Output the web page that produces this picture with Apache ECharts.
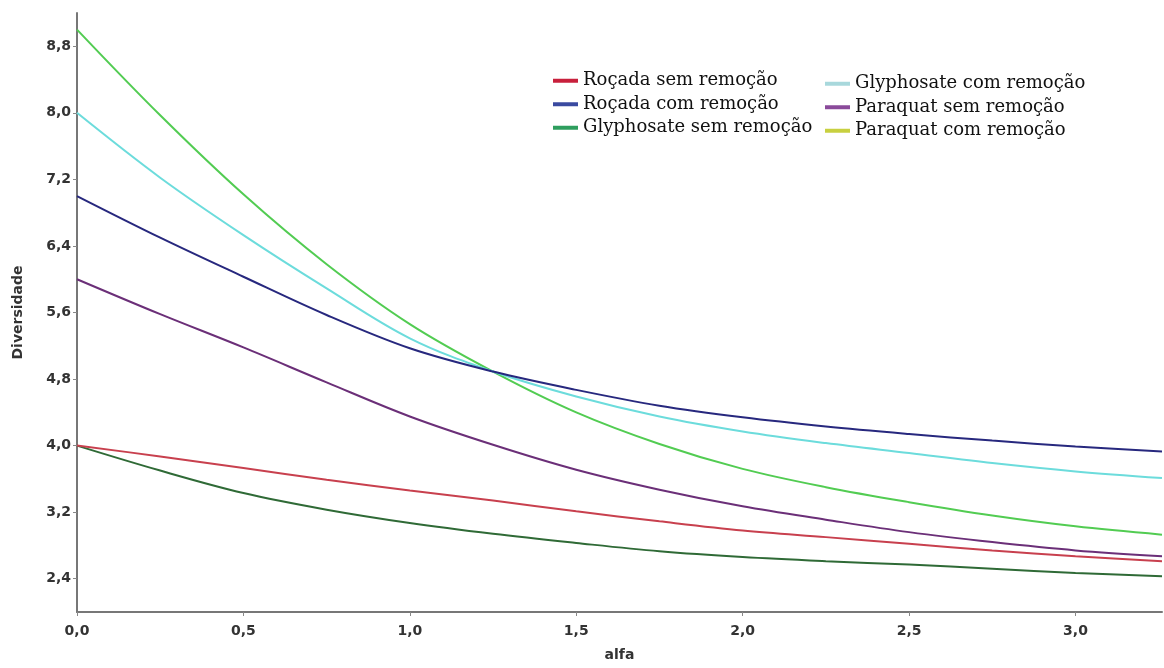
<!DOCTYPE html>
<html>
<head>
<meta charset="utf-8">
<script src="https://cdn.jsdelivr.net/npm/echarts@6/dist/echarts.min.js"></script>
<style>
html,body{margin:0;padding:0;background:#fff;}
#chart{width:1164px;height:668px;}
</style>
</head>
<body>
<div id="chart"></div>
<script>
// alpha values (x)
const alfa = [0, 0.25, 0.5, 0.75, 1.0, 1.25, 1.5, 1.75, 2.0, 2.25, 2.5, 2.75, 3.0, 3.26];
// series values (Diversidade)
const rocadaSem      = [4.00, 3.87, 3.73, 3.59, 3.46, 3.34, 3.21, 3.09, 2.98, 2.90, 2.82, 2.74, 2.67, 2.61];
const rocadaCom      = [7.00, 6.50, 6.03, 5.57, 5.17, 4.89, 4.67, 4.48, 4.34, 4.23, 4.14, 4.06, 3.99, 3.93];
const glyphosateSem  = [4.00, 3.70, 3.43, 3.23, 3.07, 2.94, 2.83, 2.73, 2.66, 2.61, 2.57, 2.52, 2.47, 2.43];
const glyphosateCom  = [8.00, 7.22, 6.53, 5.89, 5.29, 4.89, 4.59, 4.35, 4.17, 4.03, 3.91, 3.79, 3.69, 3.61];
const paraquatSem    = [6.00, 5.58, 5.18, 4.76, 4.35, 4.01, 3.71, 3.47, 3.27, 3.11, 2.96, 2.84, 2.74, 2.67];
const paraquatCom    = [9.00, 7.97, 7.02, 6.18, 5.46, 4.89, 4.40, 4.02, 3.72, 3.50, 3.32, 3.16, 3.03, 2.93];
// tick labels
const xTicks = [0, 0.5, 1.0, 1.5, 2.0, 2.5, 3.0];
const yTicks = [2.4, 3.2, 4.0, 4.8, 5.6, 6.4, 7.2, 8.0, 8.8];
const names = ['Roçada sem remoção','Roçada com remoção','Glyphosate sem remoção',
               'Glyphosate com remoção','Paraquat sem remoção','Paraquat com remoção'];
const values = [rocadaSem, rocadaCom, glyphosateSem, glyphosateCom, paraquatSem, paraquatCom];
const lineColors = ['#c8404e','#27287e','#2f6a36','#6cdcdc','#6b2f78','#52cc52'];
const legendColors = ['#c8203c','#3a4aa0','#2e9e5e','#a8d8dc','#8a4a9a','#c8d040'];

const fmt = v => Number(v).toFixed(1).replace('.', ',');

const series = names.map((n, i) => ({
  name: n,
  type: 'line',
  smooth: 0.35,
  showSymbol: false,
  data: alfa.map((a, j) => [a, values[i][j]]),
  lineStyle: { color: lineColors[i], width: 2 },
  itemStyle: { color: legendColors[i] },
  emphasis: { disabled: true },
  z: 6 - i
}));

const legendCommon = {
  orient: 'vertical',
  icon: 'rect',
  itemWidth: 25,
  itemHeight: 4,
  itemGap: 4,
  textStyle: { fontFamily: 'DejaVu Serif', fontSize: 18, color: '#111', lineHeight: 19.5 }
};

const axisFont = { fontFamily: 'DejaVu Sans', fontWeight: 'bold', fontSize: 14, color: '#333' };

const chart = echarts.init(document.getElementById('chart'), null, { renderer: 'canvas' });
chart.setOption({
  backgroundColor: '#fff',
  animation: false,
  legend: [
    Object.assign({ data: names.slice(0, 3), left: 548, top: 66 }, legendCommon),
    Object.assign({ data: names.slice(3, 6), left: 820, top: 69 }, legendCommon)
  ],
  grid: { left: 77, right: 2, top: 13, bottom: 56, containLabel: false },
  xAxis: {
    type: 'value',
    min: 0,
    max: 3.26,
    name: 'alfa',
    nameLocation: 'middle',
    nameGap: 36,
    nameTextStyle: Object.assign({}, axisFont),
    axisLine: { lineStyle: { color: '#777', width: 2 } },
    axisTick: { show: true, length: 4, lineStyle: { color: '#888' }, customValues: xTicks },
    axisLabel: Object.assign({ customValues: xTicks, formatter: fmt, margin: 12 }, axisFont),
    splitLine: { show: false }
  },
  yAxis: {
    type: 'value',
    min: 2.0,
    max: 9.2,
    name: 'Diversidade',
    nameLocation: 'middle',
    nameGap: 52,
    nameRotate: 90,
    nameTextStyle: Object.assign({}, axisFont),
    axisLine: { show: true, lineStyle: { color: '#777', width: 2 } },
    axisTick: { show: true, length: 4, lineStyle: { color: '#888' }, customValues: yTicks },
    axisLabel: Object.assign({ customValues: yTicks, formatter: fmt, margin: 6 }, axisFont),
    splitLine: { show: false }
  },
  series: series
});
</script>
</body>
</html>
